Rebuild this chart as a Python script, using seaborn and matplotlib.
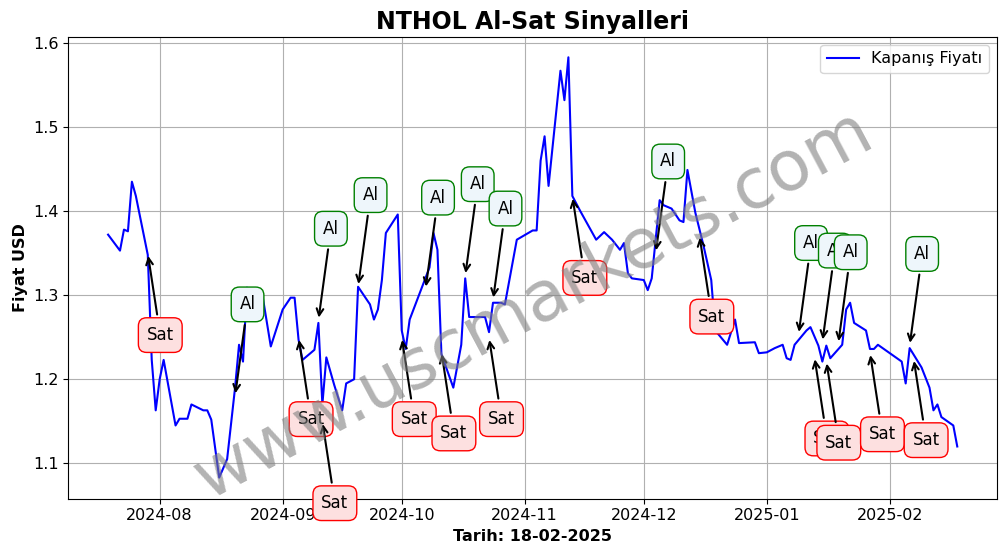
import matplotlib
matplotlib.use("Agg")
import matplotlib.pyplot as plt
import matplotlib.dates as mdates
import seaborn as sns
import pandas as pd

dates = [
"2024-07-19","2024-07-22","2024-07-23","2024-07-24","2024-07-25","2024-07-26","2024-07-29","2024-07-30","2024-07-31","2024-08-01",
"2024-08-02","2024-08-05","2024-08-06","2024-08-08","2024-08-09","2024-08-12","2024-08-13","2024-08-14","2024-08-16","2024-08-18",
"2024-08-20","2024-08-21","2024-08-22","2024-08-23","2024-08-25","2024-08-27","2024-08-29","2024-09-01","2024-09-03","2024-09-04",
"2024-09-05","2024-09-06","2024-09-09","2024-09-10","2024-09-11","2024-09-12","2024-09-14","2024-09-16","2024-09-17","2024-09-19",
"2024-09-20","2024-09-23","2024-09-24","2024-09-25","2024-09-26","2024-09-27","2024-09-30","2024-10-01","2024-10-02","2024-10-03",
"2024-10-08","2024-10-09","2024-10-10","2024-10-11","2024-10-14","2024-10-16","2024-10-17","2024-10-18","2024-10-22","2024-10-23",
"2024-10-24","2024-10-26","2024-10-27","2024-10-30","2024-11-03","2024-11-04","2024-11-05","2024-11-06","2024-11-07","2024-11-10",
"2024-11-11","2024-11-12","2024-11-13","2024-11-15","2024-11-17","2024-11-19","2024-11-21","2024-11-23","2024-11-25","2024-11-26",
"2024-11-27","2024-11-28","2024-12-01","2024-12-02","2024-12-03","2024-12-05","2024-12-06","2024-12-08","2024-12-10","2024-12-11",
"2024-12-12","2024-12-14","2024-12-16","2024-12-18","2024-12-19","2024-12-22","2024-12-24","2024-12-25","2024-12-29","2024-12-30",
"2025-01-01","2025-01-03","2025-01-05","2025-01-06","2025-01-07","2025-01-08","2025-01-11","2025-01-12","2025-01-14","2025-01-15",
"2025-01-16","2025-01-17","2025-01-20","2025-01-21","2025-01-22","2025-01-23","2025-01-26","2025-01-27","2025-01-28","2025-01-29",
"2025-02-04","2025-02-05","2025-02-06","2025-02-09","2025-02-11","2025-02-12","2025-02-13","2025-02-14","2025-02-17","2025-02-18"]
prices = [
1.372,1.353,1.378,1.376,1.435,1.418,1.348,1.223,1.163,1.200,
1.223,1.145,1.153,1.153,1.170,1.163,1.163,1.152,1.083,1.105,
1.190,1.241,1.221,1.309,1.295,1.297,1.239,1.283,1.297,1.297,
1.247,1.223,1.235,1.267,1.170,1.226,1.193,1.163,1.195,1.200,
1.310,1.289,1.271,1.283,1.318,1.374,1.396,1.258,1.236,1.271,
1.333,1.374,1.354,1.230,1.190,1.241,1.320,1.274,1.274,1.256,
1.291,1.291,1.289,1.366,1.377,1.377,1.460,1.489,1.430,1.567,
1.532,1.583,1.418,1.400,1.383,1.366,1.375,1.366,1.354,1.362,
1.326,1.320,1.318,1.306,1.320,1.413,1.407,1.403,1.389,1.387,
1.449,1.398,1.360,1.318,1.258,1.241,1.271,1.243,1.244,1.231,
1.232,1.237,1.241,1.225,1.223,1.241,1.258,1.262,1.240,1.221,
1.240,1.225,1.241,1.283,1.291,1.267,1.258,1.236,1.236,1.241,
1.221,1.195,1.237,1.214,1.190,1.163,1.170,1.155,1.145,1.120]
df = pd.DataFrame({"Tarih": pd.to_datetime(dates), "Fiyat": prices})

sig_types = ["Sat","Al","Sat","Sat","Al","Al","Sat","Al","Sat","Al","Al","Sat",
             "Sat","Al","Sat","Al","Al","Sat","Sat","Al","Sat","Al","Sat"]
sig_dates = ["2024-07-29","2024-08-20","2024-09-05","2024-09-11","2024-09-10","2024-09-20","2024-10-01","2024-10-07",
             "2024-10-11","2024-10-17","2024-10-24","2024-10-23","2024-11-13","2024-12-04","2024-12-15","2025-01-09",
             "2025-01-15","2025-01-13","2025-01-16","2025-01-19","2025-01-27","2025-02-06","2025-02-07"]
sig_prices = [1.35,1.18,1.25,1.15,1.27,1.31,1.25,1.307,1.233,1.323,1.294,1.25,
              1.418,1.35,1.372,1.253,1.244,1.227,1.222,1.242,1.232,1.24,1.225]

fig, ax = plt.subplots(figsize=(10.06, 5.54), dpi=100)
fig.subplots_adjust(left=0.068, right=0.991, top=0.933, bottom=0.1)
sns.lineplot(data=df, x="Tarih", y="Fiyat", ax=ax, color="blue", label="Kapanış Fiyatı", linewidth=1.5)

for t, d, p in zip(sig_types, sig_dates, sig_prices):
    if t == "Al":
        off, fc, ec = (9, 66), "#eef6fb", "green"
    else:
        off, fc, ec = (9, -59), "#fde0e0", "red"
    ax.annotate(t, xy=(pd.Timestamp(d), p), xytext=off, textcoords="offset points",
                ha="center", va="center", fontsize=12,
                bbox=dict(boxstyle="round,pad=0.5", fc=fc, ec=ec),
                arrowprops=dict(arrowstyle="->", color="black", lw=1.5))

fig.text(0.53, 0.45, "www.uscmarkets.com", fontsize=50, color="gray", alpha=0.6,
         rotation=28, ha="center", va="center")

ax.set_xlim(pd.Timestamp("2024-07-09"), pd.Timestamp("2025-02-28"))
ax.set_ylim(1.058, 1.607)
ax.xaxis.set_major_locator(mdates.MonthLocator())
ax.xaxis.set_major_formatter(mdates.DateFormatter("%Y-%m"))
ax.tick_params(labelsize=11.5)
ax.grid(True)
ax.set_title("NTHOL Al-Sat Sinyalleri", fontsize=17, fontweight="bold")
ax.set_xlabel("Tarih: 18-02-2025", fontsize=11.5, fontweight="bold")
ax.set_ylabel("Fiyat USD", fontsize=11.5, fontweight="bold")
ax.legend(loc="upper right", fontsize=11.5)
fig.savefig("out.png", dpi=100)
